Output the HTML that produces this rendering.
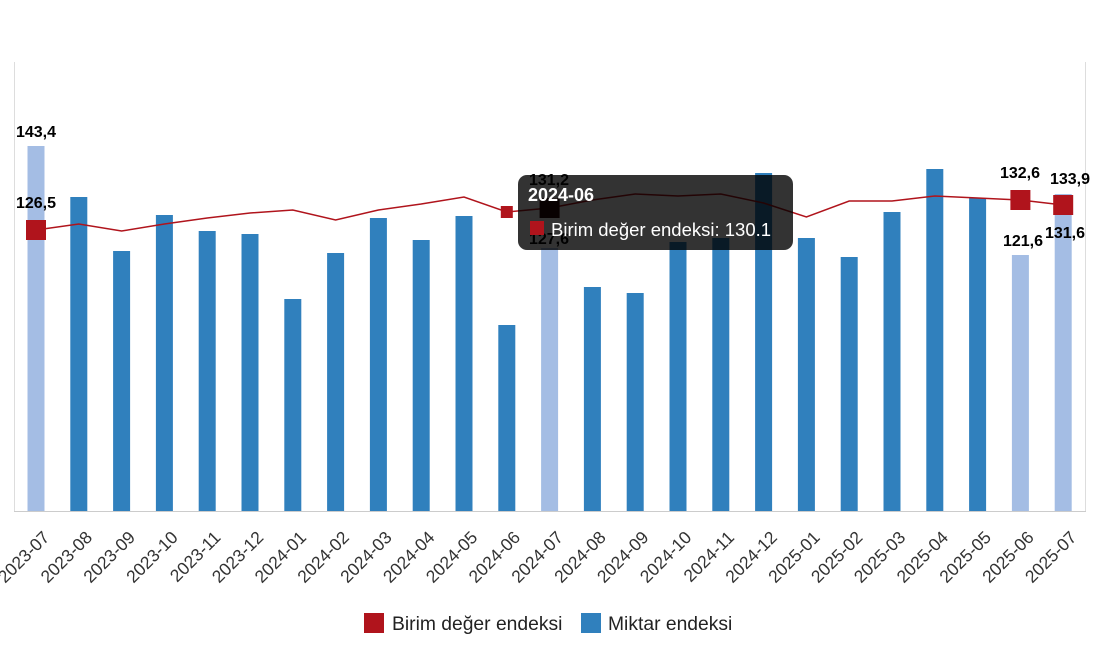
<!DOCTYPE html>
<html><head><meta charset="utf-8"><style>
body{margin:0;background:#fff;}
svg{display:block;font-family:"Liberation Sans",sans-serif;}
</style></head><body>
<svg width="1100" height="650" xmlns="http://www.w3.org/2000/svg">
<line x1="14.5" y1="62" x2="14.5" y2="511" stroke="#ddd"/>
<line x1="1085.5" y1="62" x2="1085.5" y2="511" stroke="#ddd"/>
<line x1="14" y1="511.5" x2="1086" y2="511.5" stroke="#ccc"/>
<g id="bars"></g>
<polyline id="line" fill="none" stroke="#b0141c" stroke-width="1.5"/>
<g id="mk"></g>
<g id="xl" font-size="17.5" fill="#333"></g>
<g font-size="16" font-weight="bold" fill="#000" text-anchor="middle">
<text x="36" y="137">143,4</text><text x="36" y="208">126,5</text>
<text x="549" y="185">131,2</text><text x="549" y="244">127,6</text>
<text x="1020" y="178">132,6</text><text x="1070" y="184">133,9</text>
<text x="1023" y="246">121,6</text><text x="1065" y="238">131,6</text>
</g>
<rect x="518" y="175" width="275" height="75" rx="9" fill="rgba(0,0,0,0.8)"/>
<text x="528" y="201" font-size="18" font-weight="bold" fill="#fff">2024-06</text>
<rect x="530" y="221" width="14" height="14" fill="#b0141c"/>
<text x="551" y="236" font-size="18.5" fill="#fff">Birim değer endeksi: 130.1</text>
<rect x="364" y="613" width="20" height="20" fill="#b0141c"/>
<text x="392" y="630" font-size="19.3" fill="#222">Birim değer endeksi</text>
<rect x="581" y="613" width="20" height="20" fill="#3080bd"/>
<text x="608" y="630" font-size="19.3" fill="#222">Miktar endeksi</text>
</svg>
<script>
const labels=["2023-07","2023-08","2023-09","2023-10","2023-11","2023-12","2024-01","2024-02","2024-03","2024-04","2024-05","2024-06","2024-07","2024-08","2024-09","2024-10","2024-11","2024-12","2025-01","2025-02","2025-03","2025-04","2025-05","2025-06","2025-07"];
const tops=[146,197,251,215,231,234,299,253,218,240,216,325,248,287,293,242,238,173,238,257,212,169,198,255,194];
const ly=[230,224,231,224,218,213,210,220,210,204,197,212,208,200,194,196,194,203,217,201,201,196,198,200,205];
const light=[0,12,23,24];
const X=i=>36+i*42.8;
let b="",pts=[],xl="",mk="";
for(let i=0;i<25;i++){const x=X(i);
b+=`<rect x="${x-8.5}" y="${tops[i]}" width="17" height="${511-tops[i]}" fill="${light.includes(i)?'#a4bde4':'#3080bd'}"/>`;
pts.push(x+","+ly[i]);
xl+=`<text transform="translate(${x+6},530) rotate(-45)" text-anchor="end" dy="12">${labels[i]}</text>`;}
for(const i of [0,12,23,24]) mk+=`<rect x="${X(i)-10}" y="${ly[i]-10}" width="20" height="20" fill="${i==12?'#2a0506':'#b0141c'}"/>`;
mk+=`<rect x="${X(11)-6}" y="${ly[11]-6}" width="12" height="12" fill="#b0141c"/>`;
document.getElementById("bars").innerHTML=b;
document.getElementById("line").setAttribute("points",pts.join(" "));
document.getElementById("mk").innerHTML=mk;
document.getElementById("xl").innerHTML=xl;
</script>
</body></html>
